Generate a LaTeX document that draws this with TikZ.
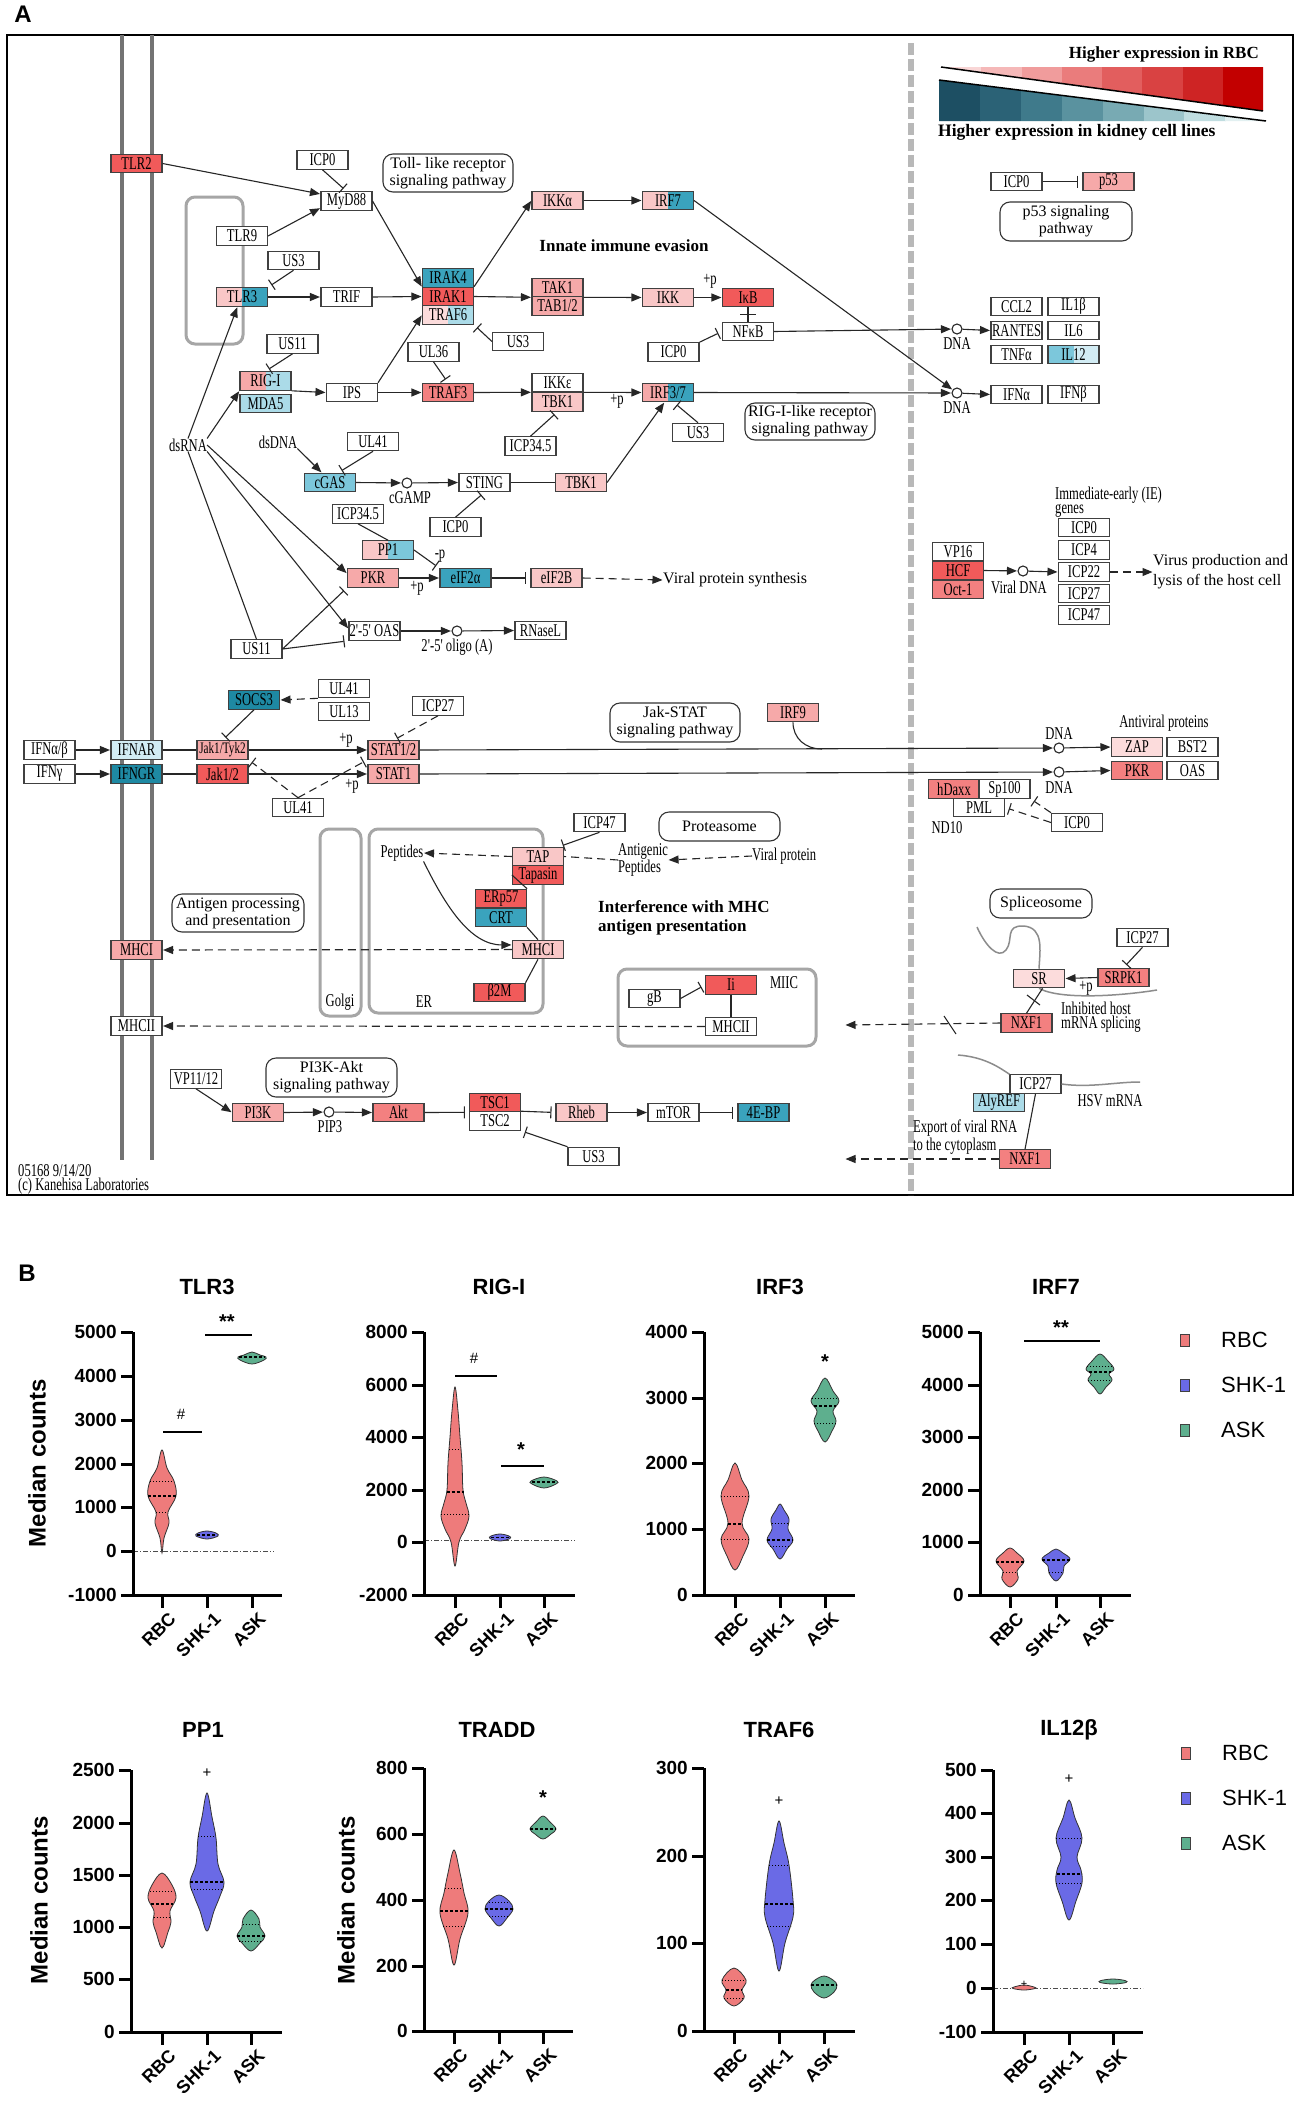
\documentclass[tikz,border=0pt]{standalone}
\usepackage{fontspec}
\setmainfont{Liberation Serif}
\newfontfamily\kf[FakeStretch=0.7]{Liberation Serif}
\newfontfamily\af{Liberation Sans}
\usetikzlibrary{arrows.meta,calc}
\newcommand\kgf{\kf\fontsize{18}{14}\selectfont}
\newcommand\kpf{\fontsize{16}{17}\selectfont}
\newcommand\kbf{\bfseries\fontsize{17}{19}\selectfont}
\definecolor{kR}{HTML}{F15A5A}
\definecolor{kRt}{HTML}{F38080}
\definecolor{kP}{HTML}{F6A9A9}
\definecolor{kL}{HTML}{F9C7C7}
\definecolor{kVL}{HTML}{FCDCDC}
\definecolor{kT}{HTML}{3AA3BD}
\definecolor{kTD}{HTML}{1E89A3}
\definecolor{kB}{HTML}{7CC7DB}
\definecolor{kLB}{HTML}{ABDBE8}
\definecolor{kVLB}{HTML}{D2ECF4}
\definecolor{cR}{HTML}{EE7B7B}
\definecolor{cS}{HTML}{6A6AE6}
\definecolor{cA}{HTML}{5EAF8E}
\definecolor{lr0}{HTML}{F9D6D6}\definecolor{lr1}{HTML}{F5B8B8}\definecolor{lr2}{HTML}{F09C9C}
\definecolor{lr3}{HTML}{EA7C7C}\definecolor{lr4}{HTML}{E25E5E}\definecolor{lr5}{HTML}{D94242}
\definecolor{lr6}{HTML}{CE2424}\definecolor{lr7}{HTML}{C20000}
\definecolor{lb0}{HTML}{1D4F63}\definecolor{lb1}{HTML}{2B6276}\definecolor{lb2}{HTML}{3F7A8B}
\definecolor{lb3}{HTML}{5A929F}\definecolor{lb4}{HTML}{78AAB3}\definecolor{lb5}{HTML}{9CC5CB}
\definecolor{lb6}{HTML}{C0DDE0}\definecolor{lb7}{HTML}{E2F0F1}
\tikzset{
 g/.style={draw=black!75,line width=1.1pt,fill=white,minimum width=51pt,minimum height=18.5pt,inner sep=0pt,font=\kgf},
 sp/.style 2 args={fill=none,path picture={\fill[#1] (path picture bounding box.south west) rectangle (path picture bounding box.north);\fill[#2] (path picture bounding box.south) rectangle (path picture bounding box.north east);}},
 pw/.style={draw=black!80,line width=1.1pt,rounded corners=10pt,align=center,inner sep=0pt,font=\kpf},
 lab/.style={inner sep=0pt,font=\kgf,align=left},
 circ/.style={circle,draw=black!85,line width=1.1pt,fill=white,minimum size=10pt,inner sep=0pt},
 ln/.style={line width=1.1pt,draw=black!85},
 act/.style={ln,-{Triangle[length=10pt,width=8pt]},shorten >=0.5pt},
 inh/.style={ln,-{Bar[width=12pt,line width=1.1pt]},shorten >=4pt},
 dsh/.style={dash pattern=on 8pt off 5pt},
 cmp/.style={draw=black!35,line width=3pt,rounded corners=9pt},
 mem/.style={draw=black!55,line width=4pt},
 rna/.style={draw=black!45,line width=1.5pt},
 ax/.style={line width=3pt,draw=black},
 tk/.style={anchor=east,inner sep=0pt,font=\af\bfseries\fontsize{19}{19}\selectfont},
 cat/.style={anchor=north east,rotate=45,inner sep=0pt,font=\af\bfseries\fontsize{18}{18}\selectfont},
 ttl/.style={inner sep=0pt,font=\af\bfseries\fontsize{22}{22}\selectfont},
 ylab/.style={rotate=90,inner sep=0pt,font=\af\bfseries\fontsize{24}{24}\selectfont},
 vio/.style={draw=black!80,line width=0.8pt},
 medl/.style={line width=1.6pt,dash pattern=on 3pt off 2pt},
 qrl/.style={line width=1pt,dash pattern=on 1pt off 2pt},
 dd/.style={draw=black!70,line width=0.9pt,dash pattern=on 5pt off 2pt on 1pt off 2pt},
 sig/.style={line width=1.2pt},
 sg/.style={inner sep=0pt,font=\af\fontsize{15}{15}\selectfont},
 sgb/.style={inner sep=0pt,font=\af\bfseries\fontsize{20}{20}\selectfont},
 leg/.style={anchor=west,inner sep=0pt,font=\af\fontsize{22}{22}\selectfont},
}
\newcommand\vio[5]{%
 \gdef\myvR{}\gdef\myvL{}%
 \foreach \yy/\ww in {#5}{\xdef\myvR{\myvR(\ww,\yy) }\xdef\myvL{(-\ww,\yy) \myvL}}%
 \edef\myvtmp{\noexpand\draw[vio,fill=#1,xshift=#2pt] plot[smooth cycle,tension=0.6] coordinates {(0,#3) \myvR(0,#4) \myvL};}%
 \myvtmp}
\newcommand\vmed[3]{\draw[medl] (#1-#3,#2) -- (#1+#3,#2);}
\newcommand\vqrt[3]{\draw[qrl] (#1-#3,#2) -- (#1+#3,#2);}
\newcommand\yticks[3]{\foreach \v/\y in {#3}{\draw[ax] (#2-12,\y) -- (#2,\y); \node[tk] (#1\y) at (#2-16,\y) {\v};}}
\newcommand\xcats[5]{\foreach \x/\t/\n in {#3/RBC/1,#4/SHK-1/2,#5/ASK/3}{\draw[ax] (\x,#2) -- (\x,#2+13); \node[cat] (#1\n) at (\x+6,#2+16) {\t};}}
\begin{document}
\begin{tikzpicture}[x=1pt,y=-1pt]
\useasboundingbox (0,0) rectangle (1299,2112);
\fill[white] (0,0) rectangle (1299,2112);
% ================= PANEL A =================
\node[font=\af\bfseries\fontsize{24}{24}\selectfont,inner sep=0pt] (lA) at (23,14) {A};
\draw[line width=1.3pt] (7,35) rectangle (1293,1195);
\draw[mem] (122,35) -- (122,1160);
\draw[mem] (152,35) -- (152,1160);
\draw[draw=black!28,line width=6pt,dash pattern=on 12pt off 4pt] (911,43) -- (911,1195);
\draw[cmp] (186,197) rectangle (243,344);
\draw[cmp] (320,829) rectangle (361,1016);
\draw[cmp] (369,829) rectangle (543,1013);
\draw[cmp] (618,969) rectangle (816,1046);
% legend wedges
\begin{scope}
\clip (941,67) -- (1263,67) -- (1263,111) -- cycle;
\foreach \i in {0,...,7} \fill[fill=lr\i] ({941+40.25*\i},60) rectangle ({941+40.25*(\i+1)+0.6},115);
\end{scope}
\begin{scope}
\clip (939,80) -- (939,121) -- (1266,121) -- cycle;
\foreach \i in {0,...,7} \fill[fill=lb\i] ({939+40.9*\i},75) rectangle ({939+40.9*(\i+1)+0.6},125);
\end{scope}
\draw[line width=1.5pt] (941,67) -- (1263,111);
\draw[line width=1.5pt] (939,80) -- (1266,121);
\node[anchor=east,inner sep=0pt,font=\kbf] (hiR) at (1259,54) {Higher expression in RBC};
\node[anchor=west,inner sep=0pt,font=\bfseries\fontsize{17.5}{19}\selectfont] (hiK) at (938,132) {Higher expression in kidney cell lines};
% top-left cluster
\node[g,fill=kR] (tlr2) at (136.5,163.5) {TLR2};
\node[g] (icp0a) at (322.5,160) {ICP0};
\node[g] (myd88) at (346.5,201) {MyD88};
\node[pw,minimum width=130pt,minimum height=38pt] (tollp) at (448,173) {Toll- like receptor\\signaling pathway};
\node[g] (tlr9) at (242,236) {TLR9};
\node[g] (us3a) at (293.5,260.5) {US3};
\node[g,sp={kL}{kT}] (tlr3) at (242,297) {TLR3};
\node[g] (trif) at (346.5,297) {TRIF};
\node[g] (us11a) at (292.5,344) {US11};
\node[g,sp={kP}{kLB}] (rigi) at (265.5,381) {RIG-I};
\node[g,fill=kLB] (mda5) at (265.5,403.5) {MDA5};
\node[g] (ips) at (352,392.5) {IPS};
\node[g,fill=kT] (irak4) at (448,278) {IRAK4};
\node[g,fill=kR] (irak1) at (448,296.5) {IRAK1};
\node[g,sp={kVL}{kLB}] (traf6) at (448,315) {TRAF6};
\node[g] (ul36) at (433.5,352) {UL36};
\node[g,fill=kRt] (traf3) at (448,392.5) {TRAF3};
\node[g,fill=kL] (ikka) at (557.5,200.5) {IKKα};
\node[g,sp={kL}{kT}] (irf7) at (668,200.5) {IRF7};
\node[inner sep=0pt,font=\kbf] (innate) at (624,246) {Innate immune evasion};
\node[g,fill=kP] (tak1) at (557.5,287.5) {TAK1};
\node[g,fill=kP] (tab12) at (557.5,306) {TAB1/2};
\node[g,fill=kL] (ikk) at (668,297.5) {IKK};
\node[g,fill=kR] (ikb) at (748,297.5) {IκB};
\node[g] (nfkb) at (748,331.5) {NFκB};
\node[g] (us3b) at (518,341.5) {US3};
\node[g] (icp0b) at (673.5,352) {ICP0};
\node[g] (ikke) at (557.5,382.5) {IKKε};
\node[g,fill=kL] (tbk1a) at (557.5,402) {TBK1};
\node[g,sp={kP}{kT}] (irf37) at (668,392.5) {IRF3/7};
\node[pw,minimum width=130pt,minimum height=37pt] (rigp) at (810,421.5) {RIG-I-like receptor\\signaling pathway};
\node[lab] (pa) at (710,281) {+p};
\node[lab] (pb) at (617,401) {+p};
% right top
\node[g] (icp0c) at (1016.5,181.5) {ICP0};
\node[g,fill=kP] (p53) at (1108.5,181.5) {p53};
\node[pw,minimum width=132pt,minimum height=39pt] (p53p) at (1066,221.5) {p53 signaling\\pathway};
\node[g] (ccl2) at (1016.5,306.5) {CCL2};
\node[g] (il1b) at (1073.5,306.5) {IL1β};
\node[g] (rantes) at (1016.5,330.5) {RANTES};
\node[g] (il6) at (1073.5,330.5) {IL6};
\node[g] (tnfa) at (1016.5,354.5) {TNFα};
\node[g,sp={kB}{kVLB}] (il12) at (1073.5,354.5) {IL12};
\node[g] (ifna) at (1016.5,394.5) {IFNα};
\node[g] (ifnb) at (1073.5,394.5) {IFNβ};
\node[circ] (dna1) at (957,329) {};
\node[lab] (dna1l) at (957,344) {DNA};
\node[circ] (dna2) at (957,393) {};
\node[lab] (dna2l) at (957,408) {DNA};
% middle-left
\node[lab] (dsrna) at (188,445) {dsRNA};
\node[lab] (dsdna) at (278,442) {dsDNA};
\node[g] (ul41a) at (373,441.5) {UL41};
\node[g,fill=kB] (cgas) at (330,482.5) {cGAS};
\node[circ] (cgamp) at (407,483) {};
\node[lab] (cgampl) at (410,498) {cGAMP};
\node[g] (icp345a) at (358,514) {ICP34.5};
\node[g,sp={kL}{kB}] (pp1) at (388,550) {PP1};
\node[g,fill=kP] (pkr) at (373,578) {PKR};
\node[g] (oas25) at (374.5,631) {2'-5' OAS};
\node[g] (us11b) at (256.5,649) {US11};
\node[g] (icp345b) at (530.5,446) {ICP34.5};
\node[g] (sting) at (484.5,482.5) {STING};
\node[g,fill=kL] (tbk1b) at (581,482.5) {TBK1};
\node[g] (icp0d) at (455.5,527) {ICP0};
\node[g,fill=kT] (eif2a) at (465.5,578) {eIF2α};
\node[g,fill=kL] (eif2b) at (556.5,578) {eIF2B};
\node[anchor=west,inner sep=0pt,font=\kpf] (vps) at (663,580) {Viral protein synthesis};
\node[circ] (oligo) at (457,631) {};
\node[lab] (oligol) at (457,647) {2'-5' oligo (A)};
\node[g] (rnasel) at (540.5,630.5) {RNaseL};
\node[g] (us3c) at (698,432.5) {US3};
\node[lab] (pc) at (417,588) {+p};
\node[lab] (pd) at (440,556) {-p};
% IE genes
\node[lab,anchor=north west,font=\kf\fontsize{18}{13}\selectfont] (ie) at (1055,487) {Immediate-early (IE)\\genes};
\node[g] (icp0e) at (1084,527.5) {ICP0};
\node[g] (icp4) at (1084,550) {ICP4};
\node[g] (icp22) at (1084,572) {ICP22};
\node[g] (icp27a) at (1084,593.5) {ICP27};
\node[g] (icp47a) at (1084,615) {ICP47};
\node[g] (vp16) at (958,551.5) {VP16};
\node[g,fill=kR] (hcf) at (958,570.5) {HCF};
\node[g,fill=kRt] (oct1) at (958,589.5) {Oct-1};
\node[circ] (vdna) at (1023,571) {};
\node[lab] (vdnal) at (1019,587) {Viral DNA};
\node[anchor=west,inner sep=0pt,align=left,font=\fontsize{16}{20}\selectfont] (virus) at (1153,572) {Virus production and\\lysis of the host cell};
% Jak-STAT
\node[g,fill=kTD] (socs3) at (254,700) {SOCS3};
\node[g] (ul41b) at (344,688.5) {UL41};
\node[g] (ul13) at (344,711.5) {UL13};
\node[g] (icp27b) at (438,706) {ICP27};
\node[g] (ifnab) at (49.5,750) {IFNα/β};
\node[g] (ifng) at (49.5,774) {IFNγ};
\node[g,fill=kVLB] (ifnar) at (136.5,750) {IFNAR};
\node[g,fill=kTD] (ifngr) at (136.5,774) {IFNGR};
\node[g,fill=kP,font=\kf\fontsize{16}{14}\selectfont] (jak1tyk2) at (222.5,750) {Jak1/Tyk2};
\node[g,fill=kR] (jak12) at (222.5,774) {Jak1/2};
\node[g,fill=kP] (stat12) at (393.5,750) {STAT1/2};
\node[g,fill=kP] (stat1) at (393.5,774) {STAT1};
\node[g] (ul41c) at (298,807.5) {UL41};
\node[lab] (pe) at (346,740) {+p};
\node[lab] (pf) at (352,786) {+p};
\node[pw,minimum width=130pt,minimum height=39pt] (jakp) at (675,722.5) {Jak-STAT\\signaling pathway};
\node[g,fill=kP] (irf9) at (793,712.5) {IRF9};
\node[circ] (dna3) at (1059,748) {};
\node[lab] (dna3l) at (1059,734) {DNA};
\node[circ] (dna4) at (1059,772) {};
\node[lab] (dna4l) at (1059,788) {DNA};
\node[lab] (antiv) at (1164,723) {Antiviral proteins};
\node[g,fill=kVL] (zap) at (1137,747) {ZAP};
\node[g] (bst2) at (1192.5,747) {BST2};
\node[g,fill=kRt] (pkr2) at (1137,770.5) {PKR};
\node[g] (oas) at (1192.5,770.5) {OAS};
\node[g,fill=kRt] (hdaxx) at (954,789) {hDaxx};
\node[g] (sp100) at (1004.5,789) {Sp100};
\node[g] (pml) at (979,807.5) {PML};
\node[lab] (nd10) at (947,828) {ND10};
\node[g] (icp0f) at (1077,822.5) {ICP0};
% antigen presentation
\node[lab] (peptides) at (402,853) {Peptides};
\node[lab] (golgil) at (340,1002) {Golgi};
\node[lab] (erl) at (424,1002) {ER};
\node[pw,minimum width=132pt,minimum height=38pt] (antp) at (238,913) {Antigen processing\\and presentation};
\node[g,fill=kP] (mhc1a) at (136.5,950) {MHCI};
\node[g] (mhc2a) at (136.5,1026) {MHCII};
\node[g] (icp47b) at (599.5,822.5) {ICP47};
\node[pw,minimum width=121pt,minimum height=29pt] (prot) at (719.5,826.5) {Proteasome};
\node[g,fill=kL] (tap) at (538,856.5) {TAP};
\node[g,fill=kR] (tapasin) at (538,875) {Tapasin};
\node[lab,anchor=west,font=\kf\fontsize{18}{12.5}\selectfont] (antig) at (618,860) {Antigenic\\Peptides};
\node[lab,anchor=west] (viralp) at (752,856) {Viral protein};
\node[g,fill=kR] (erp57) at (501,898.5) {ERp57};
\node[g,fill=kT] (crt) at (501,917.5) {CRT};
\node[g,fill=kL] (mhc1b) at (538,949.5) {MHCI};
\node[g,fill=kR] (b2m) at (499.5,992.5) {β2M};
\node[anchor=west,inner sep=0pt,align=left,font=\kbf] (interf) at (598,918) {Interference with MHC\\antigen presentation};
\node[g,fill=kR] (ii) at (731,985) {Ii};
\node[g] (gb) at (654.5,998.5) {gB};
\node[g] (mhc2b) at (731,1026.5) {MHCII};
\node[lab] (miicl) at (784,983) {MIIC};
% PI3K
\node[g] (vp1112) at (196,1079) {VP11/12};
\node[pw,minimum width=131pt,minimum height=39pt] (pi3kp) at (331.5,1077.5) {PI3K-Akt\\signaling pathway};
\node[g,fill=kP] (pi3k) at (258,1112.5) {PI3K};
\node[circ] (pip3) at (329,1112) {};
\node[lab] (pip3l) at (330,1127) {PIP3};
\node[g,fill=kRt] (akt) at (398.5,1112.5) {Akt};
\node[g,fill=kR] (tsc1) at (495,1102.5) {TSC1};
\node[g] (tsc2) at (495,1121) {TSC2};
\node[g,fill=kL] (rheb) at (581.5,1112.5) {Rheb};
\node[g] (mtor) at (673.5,1112.5) {mTOR};
\node[g,fill=kT] (ebp) at (763.5,1112.5) {4E-BP};
\node[g] (us3d) at (593.5,1156.5) {US3};
\node[lab,anchor=west] (foot) at (18,1179) {05168 9/14/20\\(c) Kanehisa Laboratories};
% spliceosome
\node[pw,minimum width=102pt,minimum height=29pt] (splp) at (1041,903.5) {Spliceosome};
\node[g] (icp27c) at (1142.5,937.5) {ICP27};
\node[g,fill=kRt] (srpk1) at (1123.5,977.5) {SRPK1};
\node[g,fill=kVL] (sr) at (1039,978.5) {SR};
\node[g,fill=kRt] (nxf1a) at (1026.5,1023) {NXF1};
\node[lab,anchor=west,font=\kf\fontsize{18}{12}\selectfont] (inhib) at (1061,1017) {Inhibited host\\mRNA splicing};
\node[lab] (pg) at (1086,988) {+p};
\node[g] (icp27d) at (1035.5,1084) {ICP27};
\node[g,fill=kLB] (alyref) at (999,1102.5) {AlyREF};
\node[lab] (hsv) at (1110,1101) {HSV mRNA};
\node[lab,anchor=west,font=\kf\fontsize{18}{12.5}\selectfont] (export) at (913,1137) {Export of viral RNA\\to the cytoplasm};
\node[g,fill=kRt] (nxf1b) at (1025,1159) {NXF1};
% gray RNA curves
\draw[rna] (977,927) .. controls (985,945) and (998,960) .. (1006,950) .. controls (1014,940) and (1004,925) .. (1024,926) .. controls (1044,928) and (1040,950) .. (sr.north);
\draw[rna] (sr.south) .. controls (1060,1000) and (1120,996) .. (1157,990);
\draw[rna] (958,1055) .. controls (985,1057) and (1000,1068) .. (icp27d.north west);
\draw[rna] (icp27d.east) .. controls (1090,1088) and (1115,1082) .. (1140,1082);
% ---- connectors ----
\draw[act] (tlr2.east) -- (myd88.165);
\draw[inh] (icp0a.south) -- (myd88.north);
\draw[act] (tlr9.east) -- (myd88.195);
\draw[act] (myd88.east) -- (irak1.160);
\draw[inh] (us3a.south) -- (tlr3.north east);
\draw[act] (tlr3.east) -- (trif.west);
\draw[act] (trif.east) -- (irak1.west);
\draw[inh] (us11a.south) -- (rigi.north);
\draw[act] (rigi.south east) -- (ips.west);
\draw[act] (ips.east) -- (traf3.west);
\draw[act] (ips.north east) -- (traf6.west);
\draw[inh] (ul36.south) -- (traf3.north);
\draw[inh] (us3b.west) -- (traf6.south east);
\draw[act] (irak1.north east) -- (ikka.west);
\draw[act] (irak1.east) -- (tak1.south west);
\draw[act] (tak1.south east) -- (ikk.west);
\draw[act] (ikk.east) -- (ikb.west);
\draw[ln] (ikb.south) -- (nfkb.north);
\draw[ln] ($(ikb.south)!0.5!(nfkb.north)+(-8,0)$) -- ($(ikb.south)!0.5!(nfkb.north)+(8,0)$);
\draw[inh] (icp0b.north east) -- (nfkb.west);
\draw[act] (ikka.east) -- (irf7.west);
\draw[act] (irf7.east) -- (dna2);
\draw[act] (nfkb.east) -- (dna1);
\draw[act] (dna1) -- (rantes.west);
\draw[act] (dna2) -- (ifna.west);
\draw[act] (traf3.east) -- (ikke.south west);
\draw[act] (ikke.south east) -- (irf37.west);
\draw[act] (irf37.east) -- (dna2);
\draw[inh] (us3c.north) -- (irf37.-60);
\draw[act] (tbk1b.east) -- (irf37.-110);
\draw[inh] (icp345b.north) -- (tbk1a.south);
\draw[inh] (icp0c.east) -- (p53.west);
\draw[act] (dsrna.north) -- (tlr3.-115);
\draw[act] (dsrna.north east) -- (rigi.south west);
\draw[act] (dsrna.east) -- (pkr.170);
\draw[act] (dsrna.south east) -- (oas25.175);
\draw[ln] (dsrna.south) -- (us11b.north);
\draw[act] (dsdna.south east) -- (cgas.130);
\draw[inh] (ul41a.south) -- (cgas.50);
\draw[act] (cgas.east) -- (cgamp);
\draw[act] (cgamp) -- (sting.west);
\draw[ln] (sting.east) -- (tbk1b.west);
\draw[inh] (icp0d.north) -- (sting.south);
\draw[ln] (icp345a.south) -- (pp1.north);
\draw[inh] (pp1.east) -- (eif2a.north west);
\draw[act] (pkr.east) -- (eif2a.west);
\draw[inh] (eif2a.east) -- (eif2b.west);
\draw[act,dsh] (eif2b.east) -- (vps.west);
\draw[inh] (us11b.east) -- (pkr.south west);
\draw[inh] (us11b.east) -- (oas25.south west);
\draw[act] (oas25.east) -- (oligo);
\draw[act] (oligo) -- (rnasel.west);
\draw[act] (ifnab.east) -- (ifnar.west);
\draw[act] (ifng.east) -- (ifngr.west);
\draw[ln] (ifnar.east) -- (jak1tyk2.west);
\draw[ln] (ifngr.east) -- (jak12.west);
\draw[act] (jak1tyk2.east) -- (stat12.west);
\draw[act] (jak12.east) -- (stat1.west);
\draw[inh] (socs3.south) -- (jak1tyk2.north);
\draw[act,dsh] (ul41b.south west) -- (socs3.east);
\draw[inh,dsh] (icp27b.south) -- (stat12.north);
\draw[inh,dsh] (ul41c.north) -- (jak1tyk2.south east);
\draw[inh,dsh] (ul41c.north) -- (stat12.south west);
\draw[act] (stat12.east) -- (dna3);
\draw[act] (dna3) -- (zap.west);
\draw[act] (stat1.east) -- (dna4);
\draw[act] (dna4) -- (pkr2.west);
\coordinate (irf9j) at (822,749);
\draw[ln] (irf9.south) .. controls (793,738) and (805,749) .. (irf9j);
\draw[act] (hcf.east) -- (vdna);
\draw[act] (vdna) -- (icp22.west);
\draw[act,dsh] (icp22.east) -- (virus.west);
\draw[inh,dsh] (icp0f.west) -- (pml.east);
\draw[inh,dsh] (icp0f.north west) -- (sp100.south east);
\draw[act,dsh] (tap.west) -- (peptides.east);
\draw[act] (peptides.south east) .. controls (445,905) and (470,945) .. (mhc1b.170);
\draw[inh] (icp47b.south) -- (tap.25);
\draw[ln,dsh] (antig.west) -- (tap.east);
\draw[act,dsh] (viralp.west) -- (antig.east);
\draw[ln] (tapasin.west) -- (erp57.north east);
\draw[ln] (crt.south east) -- (mhc1b.north);
\draw[ln] (mhc1b.south) -- (b2m.north east);
\draw[act,dsh] (mhc1b.west) -- (mhc1a.east);
\draw[act,dsh] (mhc2b.west) -- (mhc2a.east);
\draw[inh] (gb.east) -- (ii.west);
\draw[ln] (ii.south) -- (mhc2b.north);
\coordinate (exp1) at (845,1025);
\coordinate (exp2) at (845,1159);
\draw[act,dsh] (nxf1a.west) -- (exp1);
\draw[act,dsh] (nxf1b.west) -- (exp2);
\draw[ln] (944,1016) -- (956,1034);
\draw[act] (vp1112.south) -- (pi3k.west);
\draw[act] (pi3k.east) -- (pip3);
\draw[act] (pip3) -- (akt.west);
\draw[inh] (akt.east) -- (tsc1.south west);
\draw[inh] (tsc2.north east) -- (rheb.west);
\draw[act] (rheb.east) -- (mtor.west);
\draw[inh] (mtor.east) -- (ebp.west);
\draw[inh] (us3d.north west) -- (tsc2.south east);
\draw[act] (srpk1.west) -- (sr.east);
\draw[inh] (icp27c.south) -- (srpk1.north);
\draw[ln] (sr.-70) -- (nxf1a.north);
\draw[ln] (1027,995) -- (1040,1005);
\draw[ln] (icp27d.south) -- (nxf1b.north);
% ================= PANEL B =================
\node[font=\af\bfseries\fontsize{24}{24}\selectfont,inner sep=0pt] (lB) at (27,1273) {B};
\node[ylab] (yl1) at (37,1463) {Median counts};
\node[ylab] (yl2) at (39,1900) {Median counts};
\node[ylab] (yl3) at (346,1900) {Median counts};
% TLR3
\node[ttl] (t1) at (207,1287) {TLR3};
\draw[dd] (133,1551) -- (274,1551);
\vio{cR}{162}{1553}{1450}{1538/2,1523/7,1512/6,1496/14,1481/12,1468/5}
\vmed{162}{1496}{14}\vqrt{162}{1481}{12}\vqrt{162}{1512}{6}
\vio{cS}{207}{1539}{1531}{1536/11,1533/9}
\vmed{207}{1535}{10}
\vio{cA}{252}{1364}{1352}{1360/12,1357/14,1355/8}
\vmed{252}{1357}{13}
\draw[ax] (133,1332) -- (133,1595) -- (282,1595);
\yticks{ta}{133}{5000/1332,4000/1376,3000/1420,2000/1464,1000/1507,0/1551,-1000/1595}
\xcats{ca}{1595}{162}{207}{252}
\draw[sig] (163,1432) -- (202,1432); \node[sg] (s1) at (181,1414) {\#};
\draw[sig] (205,1335) -- (252,1335); \node[sgb] (s2) at (227,1322) {**};
% RIG-I
\node[ttl] (t2) at (499,1287) {RIG-I};
\draw[dd] (424,1540) -- (575,1540);
\vio{cR}{455}{1566}{1387}{1542/4,1529/10,1516/14,1503/11,1490/8,1463/7,1437/5,1411/3}
\vmed{455}{1492}{8.5}\vqrt{455}{1449}{6}\vqrt{455}{1514}{14}
\vio{cS}{500}{1541}{1534}{1538.5/10,1536/9}
\vmed{500}{1537.5}{9}
\vio{cA}{544}{1488}{1477}{1484/12,1481/13}
\vmed{544}{1482}{12}
\draw[ax] (424,1332) -- (424,1595) -- (575,1595);
\yticks{tb}{424}{8000/1332,6000/1385,4000/1437,2000/1490,0/1542,-2000/1595}
\xcats{cb}{1595}{455}{500}{544}
\draw[sig] (455,1376) -- (497,1376); \node[sg] (s3) at (474,1358) {\#};
\draw[sig] (501,1466) -- (544,1466); \node[sgb] (s4) at (521,1450) {*};
% IRF3
\node[ttl] (t3) at (780,1287) {IRF3};
\vio{cR}{735}{1570}{1463}{1556/8,1539/14,1523/7,1496/14,1480/7}
\vmed{735}{1524}{7}\vqrt{735}{1496}{14}\vqrt{735}{1539}{14}
\vio{cS}{780}{1559}{1504}{1549/7,1540/13,1529/8,1519/9,1510/4}
\vmed{780}{1540}{13}\vqrt{780}{1523}{8.5}\vqrt{780}{1546}{10}
\vio{cA}{825}{1442}{1378}{1431/7,1421/11,1411/8,1401/14,1391/8}
\vmed{825}{1406}{11}\vqrt{825}{1398}{13}\vqrt{825}{1423}{11}
\draw[ax] (704,1332) -- (704,1595) -- (855,1595);
\yticks{tc}{704}{4000/1332,3000/1398,2000/1463,1000/1529,0/1595}
\xcats{cc}{1595}{735}{780}{825}
\node[sgb] (s5) at (825,1362) {*};
% IRF7
\node[ttl] (t4) at (1056,1287) {IRF7};
\vio{cR}{1010}{1587}{1548}{1579/8,1571/7,1561/14,1553/7}
\vmed{1010}{1562}{14}\vqrt{1010}{1572}{7}
\vio{cS}{1056}{1581}{1549}{1573/7,1566/8,1559/14,1553/7}
\vmed{1056}{1560}{14}\vqrt{1056}{1572}{7}
\vio{cA}{1100}{1394}{1354}{1387/6,1380/12,1374/9,1369/14,1361/8}
\vmed{1100}{1372}{11}\vqrt{1100}{1380}{12}\vqrt{1100}{1366}{13}
\draw[ax] (980,1332) -- (980,1595) -- (1131,1595);
\yticks{td}{980}{5000/1332,4000/1385,3000/1437,2000/1490,1000/1542,0/1595}
\xcats{cd}{1595}{1010}{1056}{1100}
\draw[sig] (1024,1341) -- (1100,1341); \node[sgb] (s6) at (1061,1328) {**};
% legend 1
\foreach \n/\c/\y/\t in {1/cR/1340/RBC,2/cS/1385/SHK-1,3/cA/1430/ASK}{\draw[fill=\c,draw=black!75,line width=0.8pt] (1180,\y-6) rectangle (1189,\y+6); \node[leg] (lga\n) at (1221,\y) {\t};}
% PP1
\node[ttl] (t5) at (203,1730) {PP1};
\vio{cR}{162}{1948}{1873}{1932/6,1922/9,1911/8,1898/14,1885/10}
\vmed{162}{1904}{11}\vqrt{162}{1891}{12}\vqrt{162}{1917}{8.5}
\vio{cS}{207}{1931}{1793}{1911/7,1896/13,1882/17,1864/11,1838/9,1817/5}
\vmed{207}{1882}{17}\vqrt{207}{1836}{9}\vqrt{207}{1889}{16}
\vio{cA}{251}{1951}{1910}{1943/9,1936/14,1927/9,1919/8}
\vmed{251}{1936}{14}\vqrt{251}{1924}{8.5}\vqrt{251}{1941}{12}
\node[sg] (s7) at (207,1773) {+};
\draw[ax] (131,1770) -- (131,2032) -- (282,2032);
\yticks{te}{131}{2500/1770,2000/1823,1500/1875,1000/1927,500/1979,0/2032}
\xcats{ce}{2032}{162}{207}{251}
% TRADD
\node[ttl] (t6) at (497,1730) {TRADD};
\vio{cR}{454}{1965}{1850}{1939/6,1913/14,1893/10,1873/6}
\vmed{454}{1911}{14}\vqrt{454}{1888}{9}\vqrt{454}{1926}{11}
\vio{cS}{499}{1926}{1895}{1918/8,1909/14,1901/10}
\vmed{499}{1909}{14}\vqrt{499}{1902}{10}\vqrt{499}{1916}{10}
\vio{cA}{543}{1839}{1816}{1834/8,1829/13,1822/7}
\vmed{543}{1829}{13}
\node[sgb] (s8) at (543,1798) {*};
\draw[ax] (424,1768) -- (424,2031) -- (573,2031);
\yticks{tf}{424}{800/1768,600/1834,400/1900,200/1966,0/2031}
\xcats{cf}{2031}{454}{499}{543}
% TRAF6
\node[ttl] (t7) at (779,1730) {TRAF6};
\vio{cR}{734}{2006}{1968}{1998/10,1990/8,1980/12}
\vmed{734}{1990}{8}\vqrt{734}{1980}{12}\vqrt{734}{1998}{10}
\vio{cS}{779}{1971}{1821}{1943/6,1917/14,1900/14,1865/10,1843/5}
\vmed{779}{1904}{14}\vqrt{779}{1865}{10}\vqrt{779}{1926}{12}
\vio{cA}{824}{1998}{1976}{1992/10,1985/13,1980/9}
\vmed{824}{1985}{13}
\node[sg] (s9) at (779,1801) {+};
\draw[ax] (704,1768) -- (704,2031) -- (855,2031);
\yticks{tg}{704}{300/1768,200/1856,100/1943,0/2031}
\xcats{cg}{2031}{734}{779}{824}
% IL12b
\node[ttl] (t8) at (1069,1730) {IL12β};
\draw[dd] (993,1988) -- (1143,1988);
\vio{cR}{1024}{1990}{1985}{1988.5/11,1987/10}
\node[sg,font=\af\fontsize{11}{11}\selectfont] (s10) at (1024,1984) {+};
\vio{cS}{1069}{1920}{1800}{1901/7,1883/13,1870/12,1857/8,1838/13,1818/6}
\vmed{1069}{1874}{12.5}\vqrt{1069}{1838}{13}\vqrt{1069}{1883}{13}
\vio{cA}{1113}{1984}{1979}{1982.5/13,1980.5/12}
\node[sg] (s11) at (1069,1779) {+};
\draw[ax] (993,1770) -- (993,2032) -- (1143,2032);
\yticks{th}{993}{500/1770,400/1813,300/1857,200/1900,100/1944,0/1988,-100/2032}
\xcats{ch}{2032}{1024}{1069}{1113}
% legend 2
\foreach \n/\c/\y/\t in {1/cR/1753/RBC,2/cS/1798/SHK-1,3/cA/1843/ASK}{\draw[fill=\c,draw=black!75,line width=0.8pt] (1181,\y-6) rectangle (1190,\y+6); \node[leg] (lgb\n) at (1222,\y) {\t};}
\end{tikzpicture}
\end{document}
